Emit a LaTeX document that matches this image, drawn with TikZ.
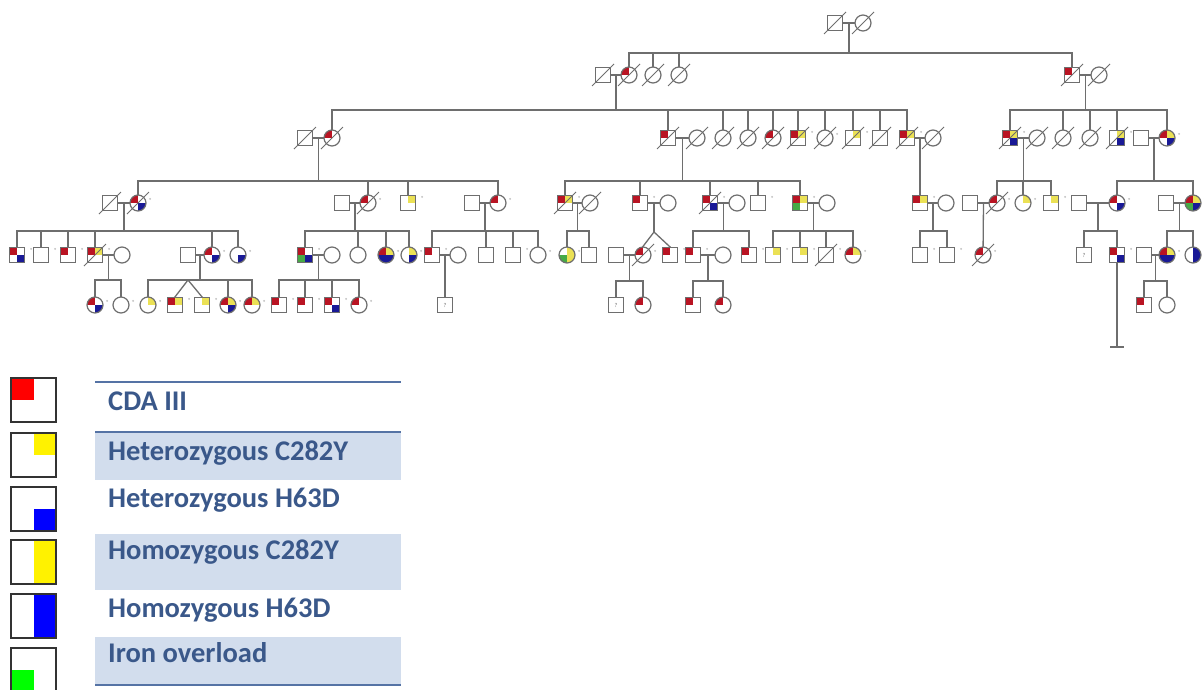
\documentclass[tikz,border=0pt]{standalone}
\usepackage{fontspec}
\newfontfamily\legfont{Carlito}
\usetikzlibrary{calc}
\definecolor{pedgray}{RGB}{110,110,110}
\definecolor{pr}{RGB}{185,20,35}
\definecolor{py}{RGB}{235,225,85}
\definecolor{pb}{RGB}{25,25,150}
\definecolor{pg}{RGB}{70,170,70}
\definecolor{legline}{RGB}{85,115,165}
\definecolor{legband}{RGB}{210,221,237}
\definecolor{legtext}{RGB}{58,88,138}
% father, mother, sibship y, first child, last child, children with a drop
\newcommand{\sibship}[6]{%
  \draw[ped] (#1) -- (#2);
  \coordinate (mid) at ($(#1)!.5!(#2)$);
  \draw[ped] (mid) -- (mid |- 0,#3);
  \draw[ped] (#4 |- 0,#3) -- (#5 |- 0,#3);
  \foreach \c in {#6} \draw[ped] (\c) -- (\c |- 0,#3);
}

\begin{document}
\begin{tikzpicture}[
  x=1pt, y=-1pt,
  ped/.style={draw=pedgray, line width=1.3pt, line cap=rect},
  male/.style={rectangle, draw=pedgray, line width=1.2pt, fill=white, minimum size=15pt, inner sep=0pt},
  fem/.style={circle, draw=pedgray, line width=1.2pt, fill=white, minimum size=16pt, inner sep=0pt},
  qd/.style n args={4}{path picture={
    \fill[#1] (path picture bounding box.center) rectangle (path picture bounding box.north west);
    \fill[#2] (path picture bounding box.center) rectangle (path picture bounding box.north east);
    \fill[#3] (path picture bounding box.center) rectangle (path picture bounding box.south west);
    \fill[#4] (path picture bounding box.center) rectangle (path picture bounding box.south east);}},
  cda/.style={qd={pr}{white}{white}{white}},
  dead/.style={append after command={([shift={(-11,11)}]\tikzlastnode.center) edge[draw=pedgray, line width=1pt] ([shift={(11,-11)}]\tikzlastnode.center)}},
  mk/.style={append after command={([shift={(6,2)}]\tikzlastnode.north east) node[mdot]{}}},
  mdot/.style={circle, fill=gray!45, inner sep=0pt, minimum size=2.2pt},
  unk/.style={font=\legfont\fontsize{6}{6}\selectfont, text=pedgray},
  legbox/.style={draw=black!80, line width=1.2pt},
  legrule/.style={draw=legline, line width=1.2pt},
  legtxt/.style={anchor=base west, inner sep=0pt, text=legtext, font=\legfont\fontsize{28.5}{33}\selectfont\bfseries}
]
\useasboundingbox (0,0) rectangle (1204,689);

% generation I
\node[male, dead] (i1) at (835,23) {};
\node[fem, dead] (i2) at (863,23) {};

% generation II
\node[male, dead] (ii1) at (603,75) {};
\node[fem, cda, dead] (ii2) at (629,75) {};
\node[fem, dead] (ii3) at (653,75) {};
\node[fem, dead] (ii4) at (679,75) {};
\node[male, cda, dead] (ii5) at (1072,75) {};
\node[fem, dead] (ii6) at (1099,75) {};

% generation III
\node[male, dead] (iii1) at (305,138) {};
\node[fem, cda, dead] (iii2) at (332,138) {};
\node[male, cda, dead] (iii3) at (668,138) {};
\node[fem, dead] (iii4) at (697,138) {};
\node[fem, dead] (iii5) at (723,138) {};
\node[fem, dead] (iii6) at (748,138) {};
\node[fem, cda, dead] (iii7) at (773,138) {};
\node[male, qd={pr}{py}{white}{white}, dead, mk] (iii8) at (798,138) {};
\node[fem, dead, mk] (iii9) at (825,138) {};
\node[male, qd={white}{py}{white}{white}, dead, mk] (iii10) at (853,138) {};
\node[male, dead] (iii11) at (880,138) {};
\node[male, qd={pr}{py}{white}{white}, dead, mk] (iii12) at (907,138) {};
\node[fem, dead] (iii13) at (933,138) {};
\node[male, qd={pr}{py}{white}{pb}, dead, mk] (iii14) at (1010,138) {};
\node[fem, dead] (iii15) at (1037,138) {};
\node[fem, dead] (iii16) at (1063,138) {};
\node[fem, dead] (iii17) at (1090,138) {};
\node[male, qd={white}{py}{white}{pb}, dead, mk] (iii18) at (1117,138) {};
\node[male] (iii19) at (1141,138) {};
\node[fem, qd={pr}{py}{white}{pb}, mk] (iii20) at (1167,138) {};

% generation IV
\node[male, dead] (iv1) at (110,203) {};
\node[fem, qd={pr}{white}{white}{pb}, dead, mk] (iv2) at (138,203) {};
\node[male] (iv3) at (342,203) {};
\node[fem, cda, dead, mk] (iv4) at (368,203) {};
\node[male, qd={white}{py}{white}{white}, mk] (iv5) at (408,203) {};
\node[male] (iv6) at (472,203) {};
\node[fem, cda, mk] (iv7) at (498,203) {};
\node[male, qd={pr}{py}{white}{white}, dead, mk] (iv8) at (565,203) {};
\node[fem, dead] (iv9) at (590,203) {};
\node[male, cda, mk] (iv10) at (640,203) {};
\node[fem] (iv11) at (668,203) {};
\node[male, qd={pr}{white}{white}{pb}, dead, mk] (iv12) at (710,203) {};
\node[fem] (iv13) at (737,203) {};
\node[male, mk] (iv14) at (758,203) {};
\node[male, qd={pr}{py}{pg}{white}, mk] (iv15) at (800,203) {};
\node[fem] (iv16) at (827,203) {};
\node[male, qd={pr}{py}{white}{white}, mk] (iv17) at (920,203) {};
\node[fem] (iv18) at (946,203) {};
\node[male] (iv19) at (970,203) {};
\node[fem, cda, dead, mk] (iv20) at (997,203) {};
\node[fem, qd={white}{py}{white}{white}, mk] (iv21) at (1023,203) {};
\node[male, qd={white}{py}{white}{white}, mk] (iv22) at (1051,203) {};
\node[male] (iv23) at (1079,203) {};
\node[fem, qd={pr}{white}{white}{pb}, mk] (iv24) at (1117,203) {};
\node[male] (iv25) at (1166,203) {};
\node[fem, qd={pr}{py}{pg}{pb}, mk] (iv26) at (1193,203) {};

% generation V
\node[male, qd={pr}{white}{white}{pb}, mk] (v1) at (17,255) {};
\node[male, mk] (v2) at (41,255) {};
\node[male, cda, mk] (v3) at (68,255) {};
\node[male, qd={pr}{py}{white}{white}, dead, mk] (v4) at (95,255) {};
\node[fem] (v5) at (122,255) {};
\node[male] (v6) at (188,255) {};
\node[fem, qd={pr}{white}{white}{pb}, mk] (v7) at (212,255) {};
\node[fem, qd={white}{white}{white}{pb}, mk] (v8) at (238,255) {};
\node[male, qd={pr}{white}{pg}{pb}, mk] (v9) at (305,255) {};
\node[fem] (v10) at (332,255) {};
\node[fem] (v11) at (358,255) {};
\node[fem, qd={pr}{py}{pb}{pb}, mk] (v12) at (386,255) {};
\node[fem, qd={white}{py}{white}{pb}, mk] (v13) at (409,255) {};
\node[male, cda, mk] (v14) at (432,255) {};
\node[fem] (v15) at (458,255) {};
\node[male] (v16) at (486,255) {};
\node[male, mk] (v17) at (513,255) {};
\node[fem, mk] (v18) at (538,255) {};
\node[fem, qd={white}{py}{pg}{py}, mk] (v19) at (567,255) {};
\node[male] (v20) at (589,255) {};
\node[male] (v21) at (616,255) {};
\node[fem, cda, dead, mk] (v22) at (643,255) {};
\node[male, cda, mk] (v23) at (670,255) {};
\node[male, cda, mk] (v24) at (693,255) {};
\node[fem] (v25) at (723,255) {};
\node[male, cda, mk] (v26) at (749,255) {};
\node[male, qd={white}{py}{white}{white}, mk] (v27) at (773,255) {};
\node[male, qd={white}{py}{white}{white}, mk] (v28) at (800,255) {};
\node[male, dead, mk] (v29) at (826,255) {};
\node[fem, qd={pr}{py}{white}{white}, mk] (v30) at (853,255) {};
\node[male, mk] (v31) at (920,255) {};
\node[male, mk] (v32) at (947,255) {};
\node[fem, cda, dead, mk] (v33) at (983,255) {};
\node[male, unk] (v34) at (1084,255) {?};
\node[male, qd={pr}{white}{white}{pb}, mk] (v35) at (1117,255) {};
\node[male] (v36) at (1144,255) {};
\node[fem, qd={pr}{py}{pb}{pb}, mk] (v37) at (1167,255) {};
\node[fem, qd={white}{pb}{white}{pb}, mk] (v38) at (1193,255) {};

% generation VI
\node[fem, qd={pr}{white}{white}{pb}, mk] (vi1) at (95,305) {};
\node[fem, mk] (vi2) at (121,305) {};
\node[fem, qd={white}{py}{white}{white}, mk] (vi3) at (148,305) {};
\node[male, qd={pr}{py}{white}{white}, mk] (vi4) at (175,305) {};
\node[male, qd={white}{py}{white}{white}, mk] (vi5) at (202,305) {};
\node[fem, qd={pr}{py}{white}{pb}, mk] (vi6) at (228,305) {};
\node[fem, qd={pr}{py}{white}{white}, mk] (vi7) at (252,305) {};
\node[male, cda, mk] (vi8) at (279,305) {};
\node[male, cda, mk] (vi9) at (305,305) {};
\node[male, qd={pr}{white}{white}{pb}, mk] (vi10) at (332,305) {};
\node[fem, cda, mk] (vi11) at (359,305) {};
\node[male, unk] (vi12) at (445,305) {?};
\node[male, unk] (vi13) at (616,305) {?};
\node[fem, cda] (vi14) at (643,305) {};
\node[male, cda] (vi15) at (693,305) {};
\node[fem, cda] (vi16) at (723,305) {};
\node[male, cda] (vi17) at (1144,305) {};
\node[fem] (vi18) at (1167,305) {};

% lines of descent
\sibship{i1}{i2}{53}{ii2}{ii5}{ii2,ii3,ii4,ii5}
\sibship{ii1}{ii2}{110}{iii2}{iii12}{iii2,iii3,iii5,iii6,iii7,iii8,iii9,iii10,iii11,iii12}
\sibship{ii5}{ii6}{110}{iii14}{iii20}{iii14,iii16,iii17,iii18,iii20}
\sibship{iii1}{iii2}{181}{iv2}{iv7}{iv2,iv4,iv5,iv7}
\sibship{iii3}{iii4}{181}{iv8}{iv15}{iv8,iv10,iv12,iv14,iv15}
\sibship{iii14}{iii15}{181}{iv20}{iv22}{iv20,iv21,iv22}
\sibship{iii19}{iii20}{181}{iv24}{iv26}{iv24,iv26}
\sibship{iv1}{iv2}{231}{v1}{v8}{v1,v2,v3,v4,v7,v8}
\sibship{iv3}{iv4}{231}{v9}{v13}{v9,v11,v12,v13}
\sibship{iv6}{iv7}{231}{v14}{v18}{v14,v16,v17,v18}
\sibship{iv8}{iv9}{231}{v19}{v20}{v19,v20}
\sibship{iv12}{iv13}{231}{v24}{v26}{v24,v26}
\sibship{iv15}{iv16}{231}{v27}{v30}{v27,v28,v29,v30}
\sibship{iv17}{iv18}{231}{v31}{v32}{v31,v32}
\sibship{iv23}{iv24}{231}{v34}{v35}{v34,v35}
\sibship{iv25}{iv26}{231}{v37}{v38}{v37,v38}
\sibship{v4}{v5}{280}{vi1}{vi2}{vi1,vi2}
\sibship{v6}{v7}{280}{vi3}{vi7}{vi3,vi6,vi7}
\sibship{v9}{v10}{280}{vi8}{vi11}{vi8,vi9,vi10,vi11}
\sibship{v21}{v22}{281}{vi13}{vi14}{vi13,vi14}
\sibship{v24}{v25}{281}{vi15}{vi16}{vi15,vi16}
\sibship{v36}{v37}{281}{vi17}{vi18}{vi17,vi18}

% only children
\draw[ped] (iii12) -- (iii13);
\draw[ped] ($(iii12)!.5!(iii13)$) -- (iv17);
\draw[ped] (iv19) -- (iv20);
\draw[ped] ($(iv19)!.5!(iv20)$) -- (v33);
\draw[ped] (v14) -- (v15);
\draw[ped] ($(v14)!.5!(v15)$) -- (vi12);

% twins
\draw[ped] (iv10) -- (iv11);
\coordinate (twa) at ($(iv10)!.5!(iv11)$);
\draw[ped] (twa) -- (twa |- 0,232) coordinate (twatop);
\draw[ped] (twatop) -- (v22.north);
\draw[ped] (twatop) -- (v23.north);
\coordinate (twb) at (188,280);
\draw[ped] (twb) -- (vi4.north);
\draw[ped] (twb) -- (vi5.north);

% line below v35
\coordinate (tail) at (v35 |- 0,347);
\draw[ped] (v35) -- (tail);
\draw[ped] ([xshift=-6pt]tail) -- ([xshift=6pt]tail);

% legend
\fill[legband] (95,432) rectangle (401,480);
\fill[legband] (95,534) rectangle (401,590);
\fill[legband] (95,637) rectangle (401,684);
\draw[legrule] (95,382) -- (401,382);
\draw[legrule] (95,432) -- (401,432);
\draw[legrule] (95,685) -- (401,685);

\fill[red] (11,378) rectangle (33.5,400);
\fill[yellow] (33.5,433) rectangle (56,455);
\fill[blue] (33.5,509) rectangle (56,531);
\fill[yellow] (33.5,540) rectangle (56,584);
\fill[blue] (33.5,594) rectangle (56,638);
\fill[green] (11,670) rectangle (33.5,692);
\foreach \y in {378,433,487,540,594,648}
  \draw[legbox] (11,\y) rectangle ++(45,44);

\node[legtxt] (t1) at (108,410) {CDA III};
\node[legtxt] (t2) at (108,460) {Heterozygous C282Y};
\node[legtxt] (t3) at (108,507) {Heterozygous H63D};
\node[legtxt] (t4) at (108,559) {Homozygous C282Y};
\node[legtxt] (t5) at (108,617) {Homozygous H63D};
\node[legtxt] (t6) at (108,662) {Iron overload};

\end{tikzpicture}
\end{document}
